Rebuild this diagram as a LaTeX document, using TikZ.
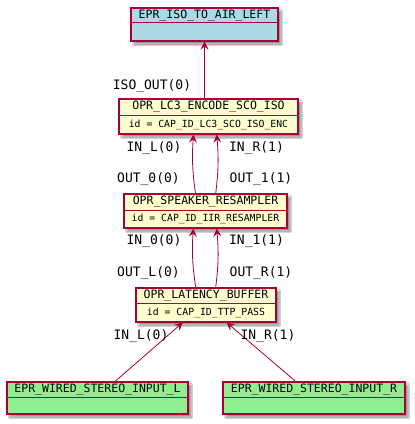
\documentclass[tikz,border=0pt]{standalone}
\usepackage{fontspec}
\setmonofont{DejaVu Sans Mono}
\usetikzlibrary{arrows.meta,shadows.blur,calc}
\definecolor{pline}{HTML}{A80036}
\definecolor{pyellow}{HTML}{FEFECE}
\definecolor{pblue}{HTML}{ADD8E6}
\definecolor{pgreen}{HTML}{90EE90}
\begin{document}
\begin{tikzpicture}[x=1pt,y=-1pt,
  objbox/.style={draw=pline, line width=1.1pt, inner sep=0pt,
    blur shadow={shadow xshift=3pt, shadow yshift=-3pt, shadow blur steps=6, shadow opacity=45}},
  divider/.style={draw=pline, line width=1.1pt},
  titletext/.style={font=\ttfamily\fontsize{11.5}{12}\selectfont, inner sep=0pt},
  idtext/.style={font=\ttfamily\fontsize{9.8}{11}\selectfont, inner sep=0pt},
  lbl/.style={font=\ttfamily\fontsize{13}{14}\selectfont, inner sep=0pt},
  conn/.style={draw=pline, line width=0.8pt, -{Stealth[length=8pt,width=8pt,inset=3pt]}}]
\useasboundingbox (0,0) rectangle (415,424);
\fill[white] (0,0) rectangle (415,424);

% boxes
\node[objbox, fill=pblue, minimum width=147pt, minimum height=33pt] (iso) at (204.5,24.5) {};
\draw[divider] ($(iso.north west)+(0,15)$) -- ($(iso.north east)+(0,15)$);
\node[titletext] (isoT) at ($(iso.north)+(0,7.8)$) {EPR\_ISO\_TO\_AIR\_LEFT};

\node[objbox, fill=pyellow, minimum width=179pt, minimum height=35pt] (lc3) at (208.5,116.5) {};
\draw[divider] ($(lc3.north west)+(0,17)$) -- ($(lc3.north east)+(0,17)$);
\node[titletext] (lc3T) at ($(lc3.north)+(0,8.5)$) {OPR\_LC3\_ENCODE\_SCO\_ISO};
\node[idtext] (lc3I) at ($(lc3.north)+(0,26)$) {id = CAP\_ID\_LC3\_SCO\_ISO\_ENC};

\node[objbox, fill=pyellow, minimum width=163pt, minimum height=34pt] (res) at (205.5,211) {};
\draw[divider] ($(res.north west)+(0,17)$) -- ($(res.north east)+(0,17)$);
\node[titletext] (resT) at ($(res.north)+(0,8.5)$) {OPR\_SPEAKER\_RESAMPLER};
\node[idtext] (resI) at ($(res.north)+(0,25.5)$) {id = CAP\_ID\_IIR\_RESAMPLER};

\node[objbox, fill=pyellow, minimum width=140pt, minimum height=34pt] (lat) at (206,305) {};
\draw[divider] ($(lat.north west)+(0,16)$) -- ($(lat.north east)+(0,16)$);
\node[titletext] (latT) at ($(lat.north)+(0,8.5)$) {OPR\_LATENCY\_BUFFER};
\node[idtext] (latI) at ($(lat.north)+(0,25)$) {id = CAP\_ID\_TTP\_PASS};

\node[objbox, fill=pgreen, minimum width=181pt, minimum height=32pt] (wl) at (97.5,398) {};
\draw[divider] ($(wl.north west)+(0,16)$) -- ($(wl.north east)+(0,16)$);
\node[titletext] (wlT) at ($(wl.north)+(0,8.2)$) {EPR\_WIRED\_STEREO\_INPUT\_L};

\node[objbox, fill=pgreen, minimum width=182pt, minimum height=32pt] (wr) at (314,398) {};
\draw[divider] ($(wr.north west)+(0,16)$) -- ($(wr.north east)+(0,16)$);
\node[titletext] (wrT) at ($(wr.north)+(0,8.2)$) {EPR\_WIRED\_STEREO\_INPUT\_R};

% connectors
\draw[conn] (lc3.north -| iso.south) -- (iso.south);
\draw[conn] ($(res.north)+(-10,0)$) to[bend left=6] ($(lc3.south)+(-15,0)$);
\draw[conn] ($(res.north)+(10.2,0)$) to[bend right=6] ($(lc3.south)+(8.2,0)$);
\draw[conn] ($(lat.north)+(-10.3,0)$) to[bend left=6] ($(res.south)+(-12.2,0)$);
\draw[conn] ($(lat.north)+(9.7,0)$) to[bend right=6] ($(res.south)+(11.2,0)$);
\draw[conn] ($(wl.north)+(17.5,0)$) -- ($(lat.south)+(-23.3,0)$);
\draw[conn] ($(wr.north)+(-18.3,0)$) -- ($(lat.south)+(20.7,0)$);

% labels
\node[lbl] (l1) at (152,86) {ISO\_OUT(0)};
\node[lbl] (l2) at (154,148) {IN\_L(0)};
\node[lbl] (l3) at (256.5,148) {IN\_R(1)};
\node[lbl] (l4) at (148.5,179) {OUT\_0(0)};
\node[lbl] (l5) at (261,179) {OUT\_1(1)};
\node[lbl] (l6) at (154,241) {IN\_0(0)};
\node[lbl] (l7) at (256.5,241) {IN\_1(1)};
\node[lbl] (l8) at (148.5,273) {OUT\_L(0)};
\node[lbl] (l9) at (261,273) {OUT\_R(1)};
\node[lbl] (l10) at (141,336) {IN\_L(0)};
\node[lbl] (l11) at (268,336) {IN\_R(1)};
\end{tikzpicture}
\end{document}
